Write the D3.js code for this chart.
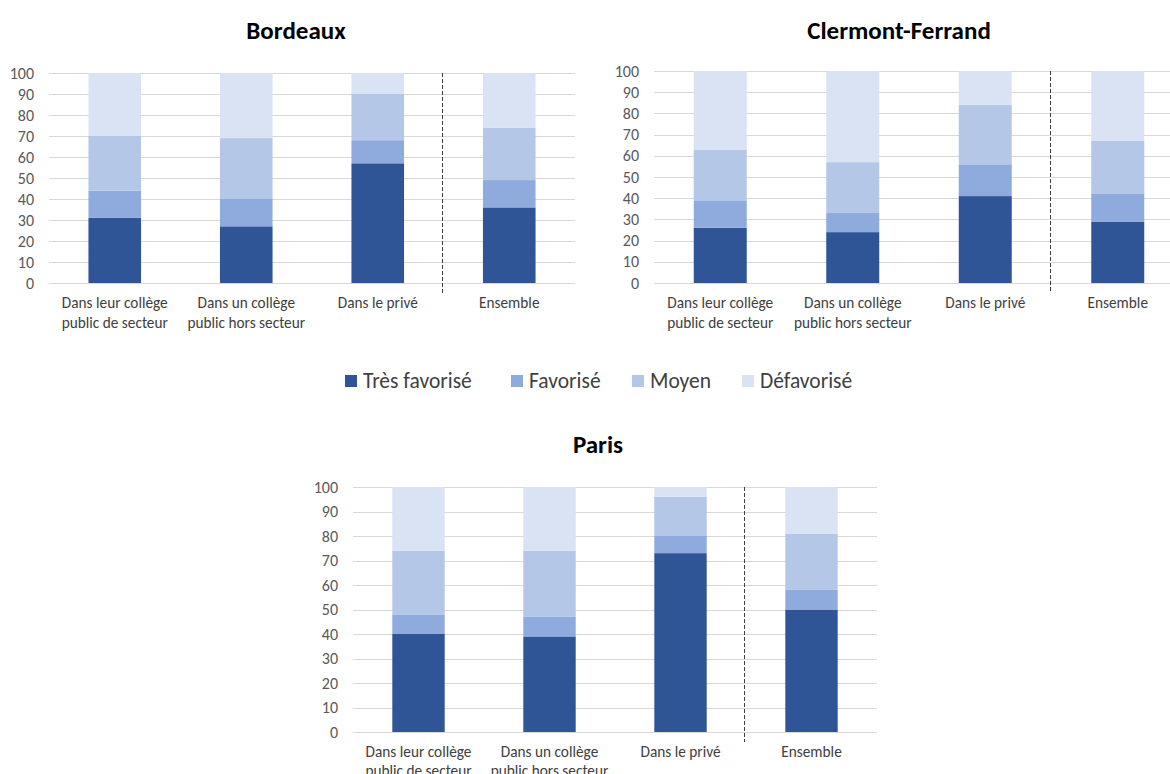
<!DOCTYPE html>
<html>
<head>
<meta charset="utf-8">
<script src="https://cdn.jsdelivr.net/npm/d3@7"></script>
<style>
  body { margin: 0; background: #fff; }
  svg { display: block; }
  text { font-family: Carlito, Lato, "Open Sans", sans-serif; }
</style>
</head>
<body>
<div id="chart"></div>
<script>
// categories (two-line labels split by "|")
const categories = ["Dans leur collège|public de secteur", "Dans un collège|public hors secteur", "Dans le privé", "Ensemble"]
const levels = ["Très favorisé", "Favorisé", "Moyen", "Défavorisé"]
const colors = ["#2F5597", "#8FAADC", "#B4C7E7", "#DAE3F3"]
const yTicks = [0, 10, 20, 30, 40, 50, 60, 70, 80, 90, 100]

// values per level, in category order
const bordeauxTresFav = [31, 27, 57, 36]
const bordeauxFav     = [13, 13, 11, 13]
const bordeauxMoyen   = [26, 29, 22, 25]
const bordeauxDefav   = [30, 31, 10, 26]

const clermontTresFav = [26, 24, 41, 29]
const clermontFav     = [13, 9, 15, 13]
const clermontMoyen   = [24, 24, 28, 25]
const clermontDefav   = [37, 43, 16, 33]

const parisTresFav = [40, 39, 73, 50]
const parisFav     = [8, 8, 7, 8]
const parisMoyen   = [26, 27, 16, 23]
const parisDefav   = [26, 26, 4, 19]

function rows(series) {
  return categories.map((c, i) => {
    const r = { cat: c }
    levels.forEach((l, j) => r[l] = series[j][i])
    return r
  })
}

const panels = [
  { title: "Bordeaux", titleX: 296, titleY: 39, left: 49, right: 575, top: 73, bottom: 283, lineGap: 20,
    data: rows([bordeauxTresFav, bordeauxFav, bordeauxMoyen, bordeauxDefav]) },
  { title: "Clermont-Ferrand", titleX: 899, titleY: 39, left: 654, right: 1184, top: 71, bottom: 283, lineGap: 20,
    data: rows([clermontTresFav, clermontFav, clermontMoyen, clermontDefav]) },
  { title: "Paris", titleX: 598, titleY: 453, left: 353, right: 877, top: 487, bottom: 732, lineGap: 19,
    data: rows([parisTresFav, parisFav, parisMoyen, parisDefav]) }
]

const width = 1170, height = 774

const svg = d3.select("#chart").append("svg")
    .attr("width", width)
    .attr("height", height)

const stack = d3.stack().keys(levels)
const color = d3.scaleOrdinal().domain(levels).range(colors)

panels.forEach(p => {
  const g = svg.append("g")

  const x = d3.scaleBand()
      .domain(categories)
      .range([p.left, p.right])
      .paddingInner(0.6)
      .paddingOuter(0.3)

  const y = d3.scaleLinear()
      .domain([0, 100])
      .range([p.bottom, p.top])

  // title
  g.append("text")
      .attr("x", p.titleX)
      .attr("y", p.titleY)
      .attr("text-anchor", "middle")
      .style("font-weight", "bold")
      .style("font-size", "25px")
      .attr("fill", "#000")
      .text(p.title)

  // gridlines
  g.append("g").selectAll("line")
    .data(yTicks)
    .join("line")
      .attr("x1", p.left)
      .attr("x2", p.right)
      .attr("y1", d => Math.round(y(d)) + 0.5)
      .attr("y2", d => Math.round(y(d)) + 0.5)
      .attr("stroke", "#D9D9D9")
      .attr("stroke-width", 1)

  // y axis labels
  const yAxis = d3.axisLeft(y).tickValues(yTicks).tickSize(0).tickPadding(15)
  g.append("g")
      .attr("transform", `translate(${p.left},0)`)
      .call(yAxis)
      .call(a => a.select(".domain").remove())
      .call(a => a.selectAll("text")
          .attr("fill", "#595959")
          .style("font-size", "16px")
          .style("font-family", "Carlito, Lato, sans-serif"))

  // stacked bars
  g.append("g").selectAll("g")
    .data(stack(p.data))
    .join("g")
      .attr("fill", d => color(d.key))
    .selectAll("rect")
    .data(d => d)
    .join("rect")
      .attr("x", d => x(d.data.cat))
      .attr("width", x.bandwidth())
      .attr("y", d => y(d[1]))
      .attr("height", d => y(d[0]) - y(d[1]))

  // x axis labels
  const xAxis = d3.axisBottom(x).tickSize(0).tickPadding(0)
  const xg = g.append("g")
      .attr("transform", `translate(0,${p.bottom})`)
      .call(xAxis)
  xg.select(".domain").remove()
  xg.selectAll("text").each(function(d) {
    const t = d3.select(this)
    t.text(null)
      .attr("y", 0)
      .attr("dy", null)
      .attr("fill", "#404040")
      .style("font-size", "15.3px")
      .style("font-family", "Carlito, Lato, sans-serif")
    d.split("|").forEach((line, i) => {
      t.append("tspan")
        .attr("x", 0)
        .attr("y", 25 + i * p.lineGap)
        .text(line)
    })
  })

  // dashed separator before "Ensemble"
  const sepX = Math.round((x("Dans le privé") + x.bandwidth() + x("Ensemble")) / 2) - 1.5
  g.append("line")
      .attr("x1", sepX)
      .attr("x2", sepX)
      .attr("y1", p.top)
      .attr("y2", p.bottom + 10)
      .attr("stroke", "#404040")
      .attr("stroke-width", 1)
      .attr("stroke-dasharray", "4,2")
})

// legend
const legendX = [345, 511, 632, 742]
const legend = svg.append("g")
    .selectAll("g")
    .data(levels)
    .join("g")
      .attr("transform", (d, i) => `translate(${legendX[i]},375)`)

legend.append("rect")
    .attr("width", 12)
    .attr("height", 12)
    .attr("fill", d => color(d))

legend.append("text")
    .attr("x", 18)
    .attr("y", 13)
    .attr("fill", "#404040")
    .style("font-size", "21.5px")
    .text(d => d)
</script>
</body>
</html>
